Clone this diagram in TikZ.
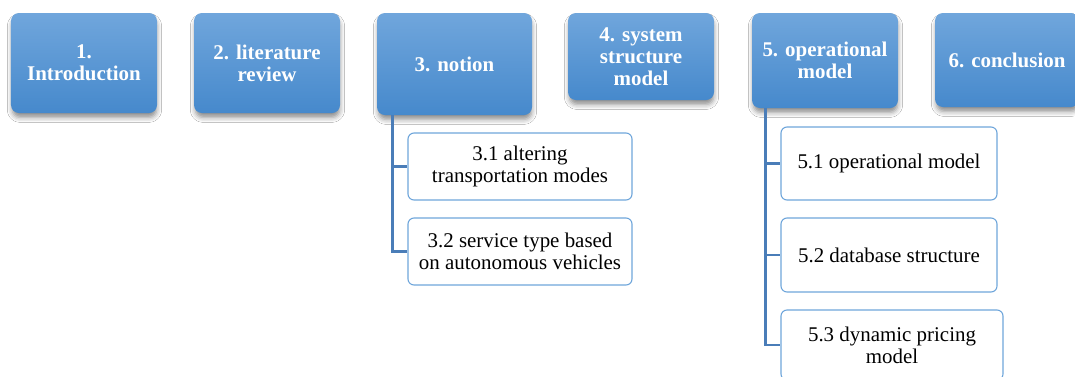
\documentclass[tikz,border=0pt]{standalone}
\usepackage{fontspec}
\setmainfont{Liberation Serif}
\usetikzlibrary{calc,shadows.blur}

\definecolor{topA}{HTML}{70A6DC}
\definecolor{topB}{HTML}{4689CC}
\definecolor{subline}{HTML}{6FA6DB}
\definecolor{connline}{HTML}{4A7DB8}

\tikzset{
  chapter/.style={rounded corners=8bp, top color=topA, bottom color=topB,
    draw=none, text=white, font=\fontsize{21}{22}\selectfont\bfseries,
    align=center, inner sep=0pt,
    blur shadow={shadow xshift=0.5bp, shadow yshift=-5bp, shadow scale=0.99,
      shadow blur radius=5bp, shadow opacity=45}},
  section/.style={rounded corners=6bp, draw=subline, line width=1.1bp,
    fill=white, text=black, font=\fontsize{21}{22}\selectfont,
    align=center, inner sep=0pt},
  conn/.style={draw=connline, line width=2.9bp}
}

\begin{document}
\begin{tikzpicture}[x=1bp,y=-1bp]
  \useasboundingbox (0,0) rectangle (1075,376);
  \clip (0,0) rectangle (1075,376);
  \fill[white] (0,0) rectangle (1075,376);

  % chapter boxes
  \node[chapter, minimum width=146bp, minimum height=100bp] (c1) at (84,63) {1.\\Introduction};
  \node[chapter, minimum width=146bp, minimum height=100bp] (c2) at (267,63) {2. literature\\review};
  \node[chapter, minimum width=155bp, minimum height=102bp] (c3) at (454.5,64) {3. notion};
  \node[chapter, minimum width=146bp, minimum height=87bp] (c4) at (641,56.5) {4. system\\structure\\model};
  \node[chapter, minimum width=146bp, minimum height=95bp] (c5) at (825,60.5) {5. operational\\model};
  \node[chapter, minimum width=144bp, minimum height=94bp] (c6) at (1007,60) {6. conclusion};

  % section boxes
  \node[section, minimum width=224bp, minimum height=67bp] (s31) at (520,166.5) {3.1 altering\\transportation modes};
  \node[section, minimum width=224bp, minimum height=67bp] (s32) at (520,251.5) {3.2 service type based\\on autonomous vehicles};
  \node[section, minimum width=216bp, minimum height=73bp] (s51) at (889,163.5) {5.1 operational model};
  \node[section, minimum width=216bp, minimum height=74bp] (s52) at (889,255) {5.2 database structure};
  \node[section, minimum width=222bp, minimum height=70bp] (s53) at (892,345) {5.3 dynamic pricing\\model};

  % tree connectors
  \coordinate (t3) at ($(c3.south west)+(16,0)$);
  \coordinate (t5) at ($(c5.south west)+(14,0)$);
  \draw[conn] (t3) |- (s31.west);
  \draw[conn] (t3) |- (s32.west);
  \draw[conn] (t5) |- (s51.west);
  \draw[conn] (t5) |- (s52.west);
  \draw[conn] (t5) |- (s53.west);
\end{tikzpicture}
\end{document}
